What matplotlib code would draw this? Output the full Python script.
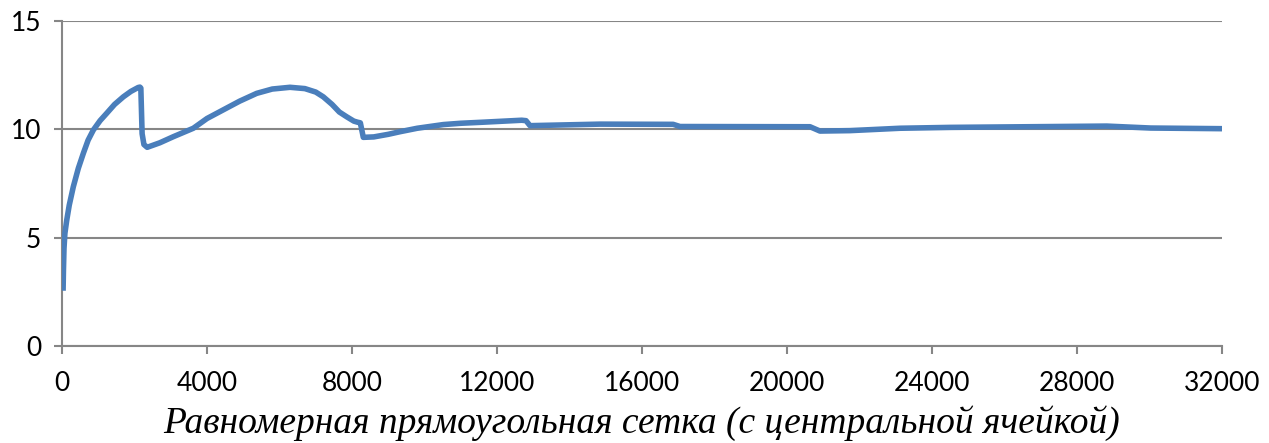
import matplotlib.pyplot as plt

# Значения
cells = [30, 40, 55, 80, 130, 200, 312, 450, 590, 720, 865, 1050, 1233, 1450, 1692,
         1900, 2100, 2150, 2175, 2210, 2260, 2350, 2700, 3071, 3623, 4000, 4450,
         4900, 5370, 5800, 6290, 6700, 7000, 7208, 7450, 7650, 7853, 8050, 8150,
         8230, 8312, 8600, 9000, 9324, 9800, 10520, 11000, 11624, 12681, 12800,
         12910, 14841, 16860, 17048, 20634, 20910, 21738, 23117, 24497, 28820,
         30034, 32000]
values = [2.55, 3.5, 4.5, 5.2, 5.8, 6.5, 7.35, 8.2, 8.9, 9.5, 9.97, 10.4, 10.74, 11.15, 11.5,
          11.75, 11.93, 11.95, 11.9, 9.8, 9.3, 9.17, 9.38, 9.66, 10.05, 10.5, 10.9,
          11.3, 11.66, 11.86, 11.94, 11.88, 11.72, 11.5, 11.15, 10.8, 10.58, 10.38, 10.33,
          10.3, 9.63, 9.65, 9.77, 9.89, 10.05, 10.22, 10.28, 10.33, 10.42, 10.4,
          10.17, 10.24, 10.23, 10.13, 10.12, 9.92, 9.94, 10.05, 10.09, 10.15,
          10.06, 10.03]

xticks = [0, 4000, 8000, 12000, 16000, 20000, 24000, 28000, 32000]
yticks = [0, 5, 10, 15]

grey = "#868686"

fig = plt.figure(figsize=(12.69, 4.43), dpi=100)
ax = fig.add_axes([62 / 1269, 1 - 346 / 443, 1160 / 1269, 325 / 443])

ax.plot(cells, values, color="#4A7EBB", linewidth=4.0, solid_joinstyle="round",
        solid_capstyle="butt", zorder=3)

ax.set_xlim(0, 32000)
ax.set_ylim(0, 15)
ax.set_xticks(xticks)
ax.set_yticks(yticks)
ax.set_xticklabels([str(t) for t in xticks], fontsize=19, family="Lato")
ax.set_yticklabels([str(t) for t in yticks], fontsize=19, family="Lato")

for spine in ("top", "right"):
    ax.spines[spine].set_visible(False)
for spine in ("left", "bottom"):
    ax.spines[spine].set_color(grey)
    ax.spines[spine].set_linewidth(1.5)

ax.yaxis.grid(True, color=grey, linewidth=1.5)
ax.set_axisbelow(True)
ax.tick_params(axis="both", direction="out", length=6, width=1.5, color=grey,
               labelcolor="black")
ax.tick_params(axis="x", pad=12)
ax.tick_params(axis="y", pad=9)

ax.set_xlabel("Равномерная прямоугольная сетка (с центральной ячейкой)",
              fontsize=27, family="Liberation Serif", style="italic", labelpad=7)

fig.savefig("out.png", dpi=100)
